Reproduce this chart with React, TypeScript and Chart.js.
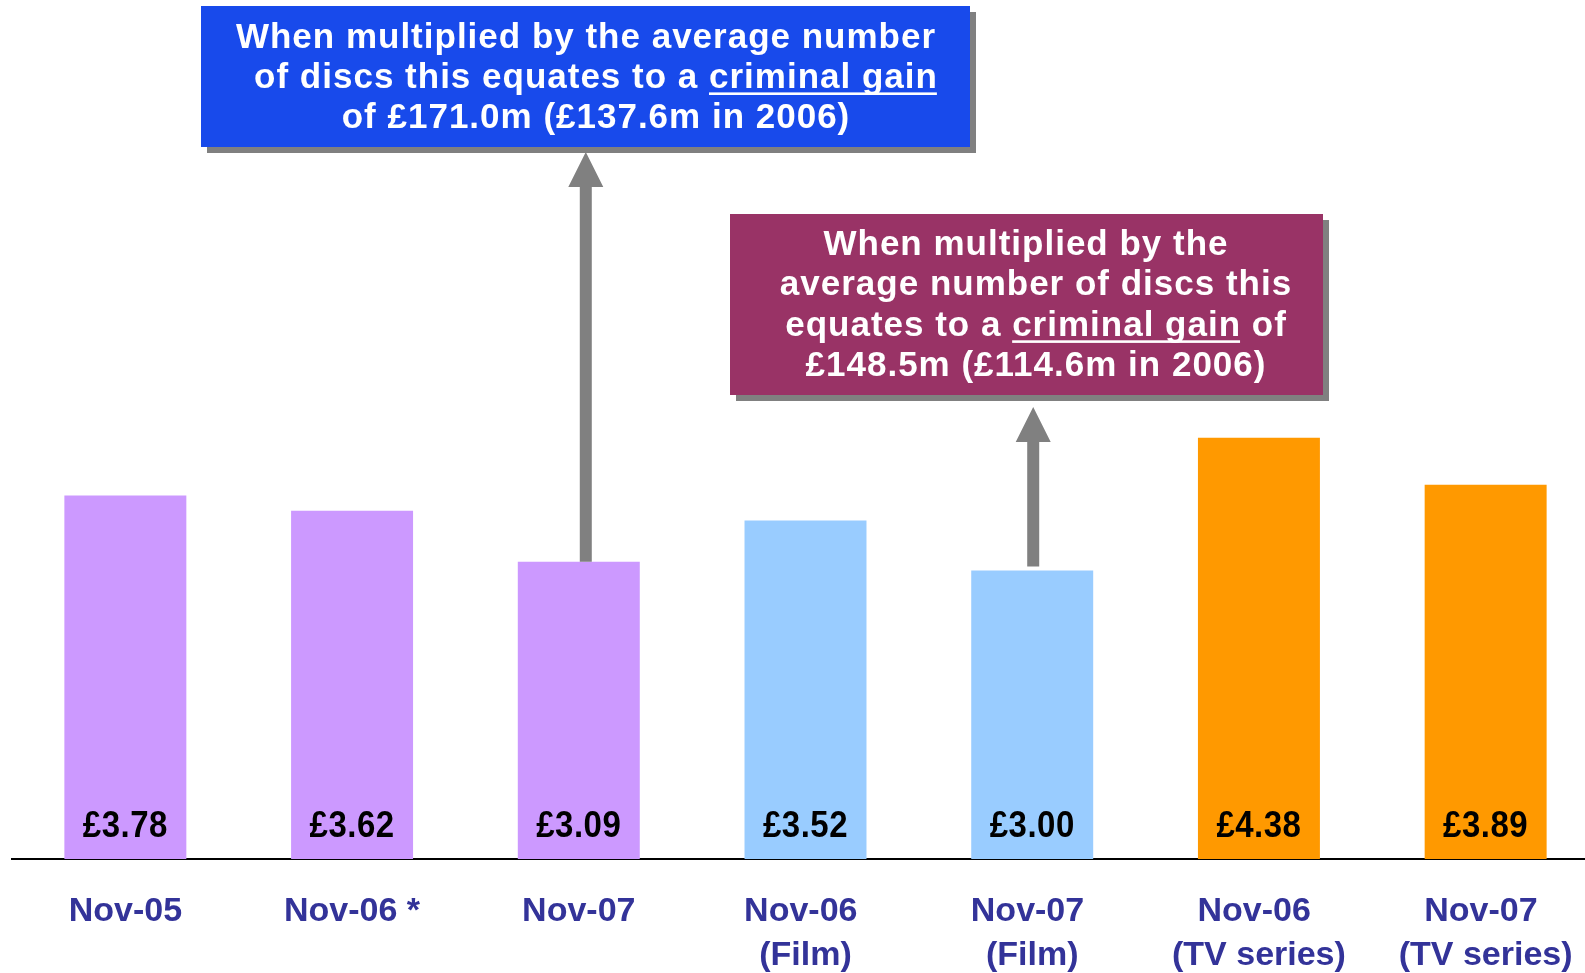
import React, { useEffect, useRef } from 'react';
import { Chart, registerables } from 'chart.js';

Chart.register(...registerables);

// ---- data ----
const categories: (string | string[])[] = [
  'Nov-05',
  'Nov-06 *',
  'Nov-07',
  ['Nov-06 ', '(Film)'],
  ['Nov-07 ', '(Film)'],
  ['Nov-06 ', '(TV series)'],
  ['Nov-07 ', '(TV series)'],
];
const prices = [3.78, 3.62, 3.09, 3.52, 3.0, 4.38, 3.89];
const valueLabels = prices.map((v) => '£' + v.toFixed(2));
const barColors = ['#CC99FF', '#CC99FF', '#CC99FF', '#99CCFF', '#99CCFF', '#FF9900', '#FF9900'];

const calloutBlueLines = [
  [{ t: 'When multiplied by the average number' }],
  [{ t: 'of discs this equates to a ' }, { t: 'criminal gain', u: true }],
  [{ t: 'of £171.0m (£137.6m in 2006)' }],
];
const calloutPurpleLines = [
  [{ t: 'When multiplied by the' }],
  [{ t: 'average number of discs this' }],
  [{ t: 'equates to a ' }, { t: 'criminal gain', u: true }, { t: ' of' }],
  [{ t: '£148.5m (£114.6m in 2006)' }],
];

const FONT = '"Liberation Sans", Arial, Helvetica, sans-serif';

type Seg = { t: string; u?: boolean };

const callouts = [
  {
    lines: calloutBlueLines as Seg[][],
    x: 201, y: 6, w: 769, h: 141,
    fill: '#184AEB',
    baseline0: 47.5, lineGap: 40.4,
    centers: [586, 596, 596],
  },
  {
    lines: calloutPurpleLines as Seg[][],
    x: 730, y: 214, w: 593, h: 181,
    fill: '#993366',
    baseline0: 255, lineGap: 40.4,
    centers: [1026, 1036, 1036, 1036],
  },
];

const arrows = [
  { index: 2, dx: 7, lift: 0, tipY: 152 },
  { index: 4, dx: 1, lift: 4, tipY: 407 },
];

function drawArrow(ctx: CanvasRenderingContext2D, x: number, yBottom: number, yTip: number) {
  const shaft = 12;
  const headW = 35;
  const headH = 35;
  ctx.fillStyle = '#808080';
  ctx.beginPath();
  ctx.moveTo(x - shaft / 2, yBottom);
  ctx.lineTo(x - shaft / 2, yTip + headH);
  ctx.lineTo(x - headW / 2, yTip + headH);
  ctx.lineTo(x, yTip);
  ctx.lineTo(x + headW / 2, yTip + headH);
  ctx.lineTo(x + shaft / 2, yTip + headH);
  ctx.lineTo(x + shaft / 2, yBottom);
  ctx.closePath();
  ctx.fill();
}

const overlayPlugin = {
  id: 'overlay',
  afterDatasetsDraw(chart: any) {
    const ctx: CanvasRenderingContext2D = chart.ctx;
    const meta = chart.getDatasetMeta(0);
    ctx.save();
    // value labels inside bars
    ctx.font = `bold 33px ${FONT}`;
    (ctx as any).letterSpacing = '0.5px';
    ctx.fillStyle = '#000000';
    ctx.textAlign = 'center';
    ctx.textBaseline = 'alphabetic';
    meta.data.forEach((bar: any, i: number) => {
      ctx.save();
      ctx.translate(bar.x, bar.base - 22);
      ctx.scale(1, 1.1);
      ctx.fillText(valueLabels[i], 0, 0);
      ctx.restore();
    });
    (ctx as any).letterSpacing = '0px';
    // arrows
    arrows.forEach((a) => {
      const bar = meta.data[a.index];
      drawArrow(ctx, bar.x + a.dx, bar.y - a.lift, a.tipY);
    });
    ctx.restore();
  },
  afterDraw(chart: any) {
    const ctx: CanvasRenderingContext2D = chart.ctx;
    ctx.save();
    callouts.forEach((c) => {
      ctx.fillStyle = '#808080';
      ctx.fillRect(c.x + 6, c.y + 6, c.w, c.h);
      ctx.fillStyle = c.fill;
      ctx.fillRect(c.x, c.y, c.w, c.h);
      ctx.font = `bold 35px ${FONT}`;
      (ctx as any).letterSpacing = '1px';
      ctx.textBaseline = 'alphabetic';
      ctx.textAlign = 'left';
      ctx.fillStyle = '#FFFFFF';
      c.lines.forEach((segs, li) => {
        const widths = segs.map((s) => ctx.measureText(s.t).width);
        const total = widths.reduce((p, q) => p + q, 0);
        let x = c.centers[li] - total / 2;
        const yb = c.baseline0 + li * c.lineGap;
        segs.forEach((s, si) => {
          ctx.fillText(s.t, x, yb);
          if (s.u) {
            ctx.fillRect(x, yb + 4.5, widths[si] - 1, 2.6);
          }
          x += widths[si];
        });
      });
      (ctx as any).letterSpacing = '0px';
    });
    ctx.restore();
  },
};

export default function App() {
  const ref = useRef<HTMLCanvasElement | null>(null);
  useEffect(() => {
    if (!ref.current) return;
    const chart = new Chart(ref.current, {
      type: 'bar',
      data: {
        labels: categories,
        datasets: [
          {
            data: prices,
            backgroundColor: barColors,
            borderWidth: 0,
            barPercentage: 0.538,
            categoryPercentage: 1,
          },
        ],
      },
      options: {
        responsive: false,
        devicePixelRatio: 1,
        animation: false,
        layout: { padding: { left: 12, right: 11, top: 3, bottom: 31 } },
        plugins: {
          legend: { display: false },
          tooltip: { enabled: false },
        },
        scales: {
          x: {
            grid: { display: false, drawTicks: false },
            border: { display: true, color: '#000000', width: 2 },
            ticks: {
              color: '#333399',
              font: { family: FONT, size: 34, weight: 'bold', lineHeight: 44 / 34 },
              padding: 31,
              maxRotation: 0,
              minRotation: 0,
              autoSkip: false,
            },
          },
          y: {
            display: false,
            min: 0,
            max: 8.9,
          },
        },
      },
      plugins: [overlayPlugin],
    } as any);
    return () => chart.destroy();
  }, []);
  return (
    <div
      style={{
        position: 'fixed',
        left: 0,
        top: 0,
        width: '100vw',
        height: '100vh',
        overflow: 'hidden',
        background: '#FFFFFF',
      }}
    >
      <canvas ref={ref} width={1610} height={1040} style={{ display: 'block', width: 1610, height: 1040 }} />
    </div>
  );
}
